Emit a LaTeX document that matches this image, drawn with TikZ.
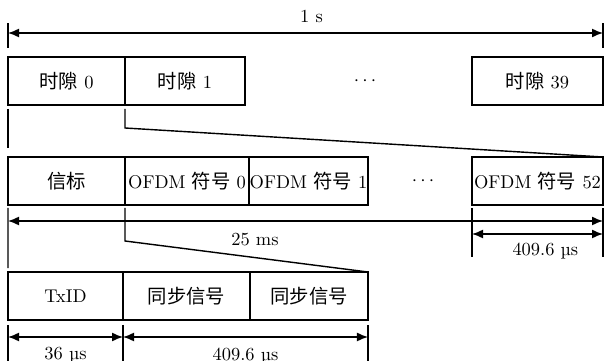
\documentclass[tikz,border=0pt]{standalone}
\usepackage{fontspec}
\newfontfamily\cjk[Scale=1.05]{Noto Sans CJK SC}
\usetikzlibrary{arrows.meta,calc,positioning}
\tikzset{
   every path/.style={>={Latex[length=2.2mm,width=1.8mm]}},
   slot/.style={rectangle, draw, line width=1pt, inner sep=0pt, outer sep=0pt, minimum height=0.96cm},
   dimline/.style={<->, thick},
   tick/.style={semithick},
   zoomline/.style={thick},
}

\begin{document}
\begin{tikzpicture}[x=0.02cm, y=-0.02cm, font=\fontsize{10.5}{12.5}\selectfont]
  \useasboundingbox (0,0) rectangle (604,361);

  % slots of one second
  \node [slot, minimum width=2.34cm] (s0) at (66.5,81) {{\cjk 时隙} 0};
  \node [slot, minimum width=2.4cm] (s1) at (185,81) {{\cjk 时隙} 1};
  \node (dots1) at (365,81) {$\cdots$};
  \node [slot, minimum width=2.62cm] (s39) at (537.5,81) {{\cjk 时隙} 39};

  % symbols of one slot
  \node [slot, minimum width=2.34cm] (bcn) at (66.5,181) {\cjk 信标};
  \node [slot, minimum width=2.48cm] (o0) at (187,181) {OFDM {\cjk 符号} 0};
  \node [slot, minimum width=2.38cm] (o1) at (308.5,181) {OFDM {\cjk 符号} 1};
  \node (dots2) at (423,181) {$\cdots$};
  \node [slot, minimum width=2.62cm] (o52) at (537.5,181) {OFDM {\cjk 符号} 52};

  % one OFDM symbol
  \node [slot, minimum width=2.3cm] (txid) at (65.5,296) {TxID};
  \node [slot, minimum width=2.54cm] (sy1) at (186.5,296) {\cjk 同步信号};
  \node [slot, minimum width=2.36cm] (sy2) at (309,296) {\cjk 同步信号};

  % 1 s
  \draw [tick] ($(s0.north west)+(0,-34)$) -- ++(0,25);
  \draw [tick] ($(s39.north east)+(0,-34)$) -- ++(0,25);
  \draw [dimline] ($(s0.north west)+(0,-24)$) to node [pos=0.51, above=0.8mm] {1 s} ($(s39.north east)+(0,-24)$);

  \draw [tick] ($(s0.south west)+(0,4)$) -- ($(bcn.north west)+(0,-9)$);
  \draw [zoomline] ($(s1.south west)+(0,4)$) -- ++(0,19) -- (o52.north east);

  % 25 ms and 409.6 us
  \draw [tick] ($(bcn.south west)+(0,3)$) -- ($(txid.north west)+(0,-4)$);
  \draw [tick] ($(o52.south west)+(0,3)$) -- ++(0,49);
  \draw [tick] ($(o52.south east)+(0,3)$) -- ++(0,49);
  \draw [dimline] ($(bcn.south west)+(0,16)$) to node [pos=0.415, below=1.2mm] {25 ms} ($(o52.south east)+(0,16)$);
  \draw [dimline] ($(o52.south west)+(0,29)$) to node [pos=0.56, below=0.4mm] {409.6 µs} ($(o52.south east)+(0,29)$);

  \draw [zoomline] ($(o0.south west)+(0,3)$) -- ++(0,33) -- (sy2.north east);

  % 36 us and 409.6 us
  \draw [tick] ($(txid.south west)+(0,5)$) -- ++(0,36);
  \draw [tick] ($(sy1.south west)+(0,5)$) -- ++(0,36);
  \draw [tick] ($(sy2.south east)+(0,5)$) -- ++(0,36);
  \draw [dimline] ($(txid.south west)+(0,17)$) to node [below=0.8mm] {36 µs} ($(sy1.south west)+(0,17)$);
  \draw [dimline] ($(sy1.south west)+(0,17)$) to node [below=0.8mm] {409.6 µs} ($(sy2.south east)+(0,17)$);
\end{tikzpicture}
\end{document}
